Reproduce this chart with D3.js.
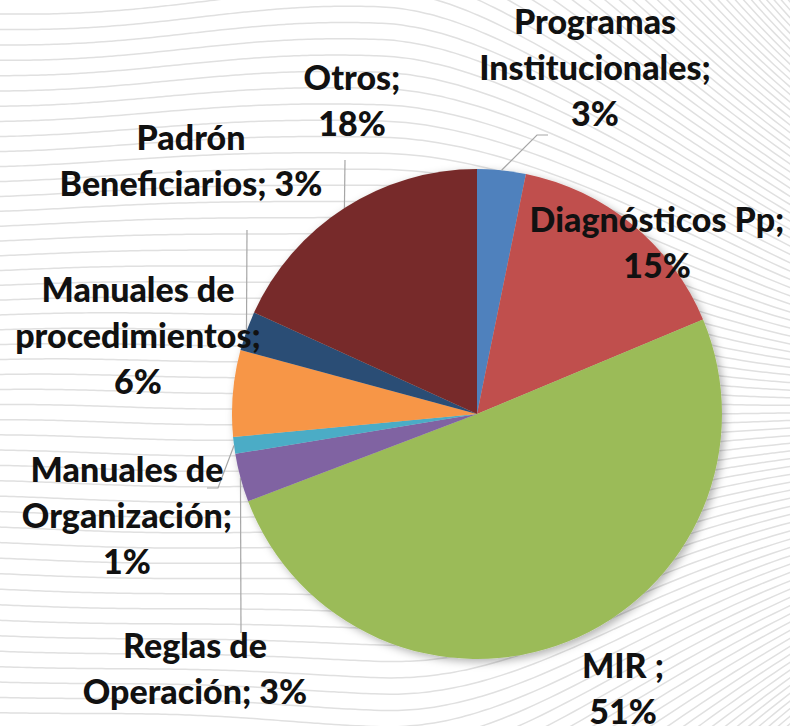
<!DOCTYPE html>
<html>
<head>
  <meta charset="utf-8">
  <script src="https://d3js.org/d3.v7.min.js"></script>
  <style>
    body { margin: 0; background: #fff; }
    svg { display: block; font-family: Lato, "Open Sans", sans-serif; }
    .lbl { font-size: 34px; font-weight: 900; fill: #111; }
  </style>
</head>
<body>
  <svg width="790" height="726"></svg>

  <script>
    // Data (clockwise from 12 o'clock)
    const categories = [
      "Programas Institucionales",
      "Diagnósticos Pp",
      "MIR ",
      "Reglas de Operación",
      "Manuales de Organización",
      "Manuales de procedimientos",
      "Padrón Beneficiarios",
      "Otros"
    ];
    const shares = [3.2, 15.5, 50.5, 3.2, 1.1, 5.7, 2.6, 18.2];
    const pctLabels = ["3%", "15%", "51%", "3%", "1%", "6%", "3%", "18%"];
    const colors = ["#4F81BD", "#C0504D", "#9BBB59", "#8064A2", "#4BACC6", "#F79646", "#2C4D75", "#772C2A"];

    // Label layout: centre x, first baseline y, words per line, leader points
    const labelLayout = [
      { x: 595, y: 34,  wrap: [1, 1, 1], leader: [[548, 135], [537, 135]] },
      { x: 657, y: 232, wrap: [2, 1] },
      { x: 623, y: 678, wrap: [2, 1] },
      { x: 195, y: 658, wrap: [2, 2], leader: [[241, 633]] },
      { x: 127, y: 482, wrap: [2, 1, 1], leader: [[207, 488], [218, 488]] },
      { x: 138, y: 302, wrap: [2, 1, 1] },
      { x: 191, y: 150, wrap: [1, 2], leader: [[247, 230]] },
      { x: 352, y: 90,  wrap: [1, 1], leader: [[345, 160]] }
    ];
    const lineHeight = 46;

    const W = 790, H = 726;
    const cx = 477, cy = 414, R = 245;

    const svg = d3.select("svg");

    // Background: light wavy lines
    const bg = svg.append("g").attr("fill", "none").attr("stroke", "#e0e0e0").attr("stroke-width", 1.5);
    const t = x => { const u = Math.max(0, Math.min(1, (x - 380) / 620)); return u * u * (3 - 2 * u); };
    const h = x => 1.08 + 0.06 * Math.exp(-(((x - 380) / 220) ** 2)) - 0.7 * t(x);
    const bgLine = d3.line().curve(d3.curveBasis);
    for (let c = -600; c <= 1300; c += 14) {
      const pts = d3.range(-10, W + 15, 8).map(x => [x, 420 + (c - 420) * h(x) + 2.5 * Math.sin(x / 70 + c / 90)]);
      bg.append("path").attr("d", bgLine(pts));
    }

    // Drop shadow for pie
    const defs = svg.append("defs");
    const f = defs.append("filter").attr("id", "shadow")
      .attr("x", "-20%").attr("y", "-20%").attr("width", "140%").attr("height", "140%");
    f.append("feDropShadow").attr("dx", 3).attr("dy", 3).attr("stdDeviation", 4)
      .attr("flood-color", "#000").attr("flood-opacity", 0.3);

    const pie = d3.pie().sort(null).value(d => d);
    const arcs = pie(shares);
    const arc = d3.arc().innerRadius(0).outerRadius(R);

    const g = svg.append("g").attr("transform", `translate(${cx},${cy})`);
    g.append("g").attr("filter", "url(#shadow)")
      .selectAll("path")
      .data(arcs)
      .join("path")
      .attr("d", arc)
      .attr("fill", (d, i) => colors[i]);

    // Leader lines
    const leaderLine = d3.line();
    arcs.forEach((d, i) => {
      const lay = labelLayout[i];
      if (!lay.leader) return;
      const a = (d.startAngle + d.endAngle) / 2;
      const edge = [cx + R * Math.sin(a), cy - R * Math.cos(a)];
      svg.append("path")
        .attr("d", leaderLine([...lay.leader, edge]))
        .attr("fill", "none")
        .attr("stroke", "#a6a6a6")
        .attr("stroke-width", 1.2);
    });

    // Labels
    categories.forEach((cat, i) => {
      const lay = labelLayout[i];
      const words = `${cat}; ${pctLabels[i]}`.split(" ");
      const lines = [];
      let k = 0;
      lay.wrap.forEach(n => { lines.push(words.slice(k, k + n).join(" ")); k += n; });
      const txt = svg.append("text").attr("class", "lbl").attr("text-anchor", "middle");
      lines.forEach((ln, j) => {
        txt.append("tspan").attr("x", lay.x).attr("y", lay.y + j * lineHeight).text(ln);
      });
    });
  </script>
</body>
</html>
